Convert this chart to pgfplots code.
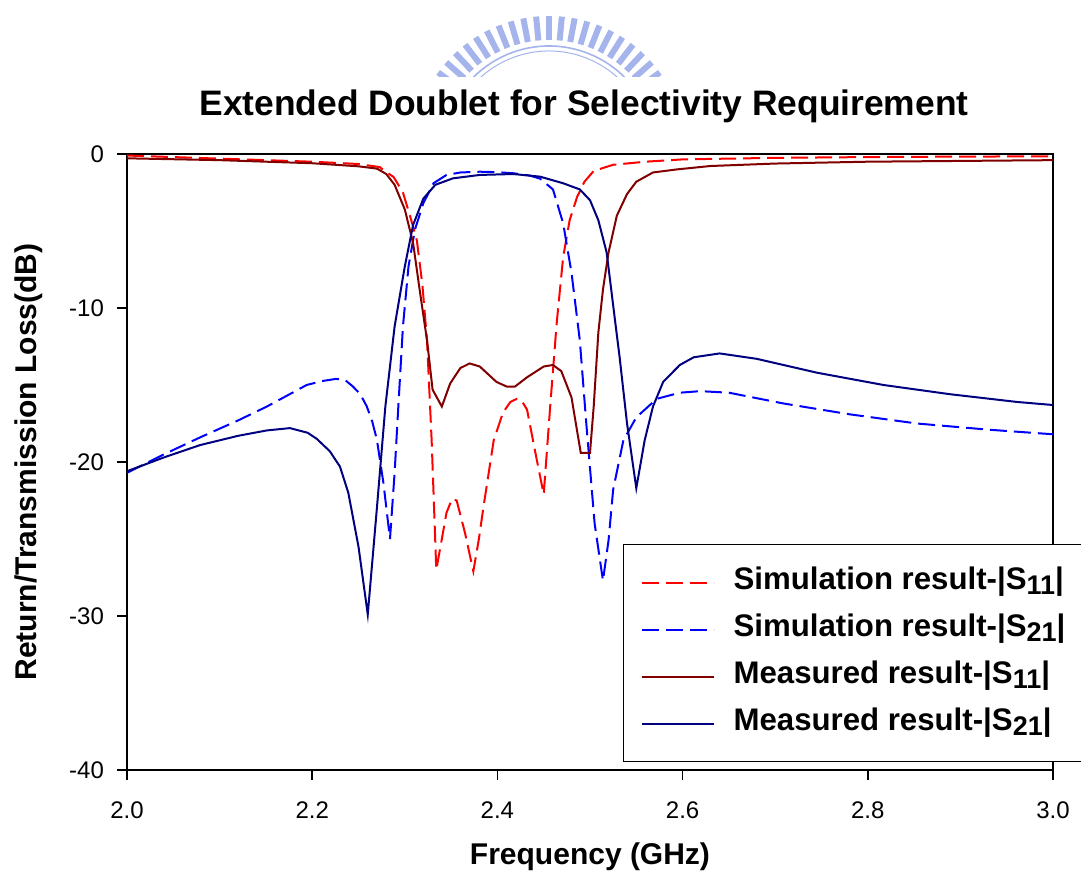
\documentclass[border=0pt]{standalone}
\usepackage{fontspec}
\setmainfont{Liberation Sans}
\usepackage{pgfplots}
\pgfplotsset{compat=1.18}
\definecolor{simred}{RGB}{255,0,0}
\definecolor{simblue}{RGB}{0,0,255}
\definecolor{measred}{RGB}{128,0,0}
\definecolor{measblue}{RGB}{0,0,128}
\definecolor{logo}{RGB}{165,180,235}
\newcommand{\sub}[1]{\raisebox{-2.4pt}{\fontsize{13.5}{14}\selectfont #1}}

\begin{document}
\begin{tikzpicture}
\path[use as bounding box] (-63.5pt,-53.5pt) rectangle (477pt,385pt);
% faint logo behind the title
\begin{scope}
\clip (-63.5pt,346.5pt) rectangle (477pt,385pt);
\foreach \a in {36,41.4,...,144}
  \draw[logo, line width=3pt] (211pt,308.5pt) ++(\a:56.5pt) -- ++(\a:12pt);
\draw[logo, line width=0.8pt] (211pt,308.5pt) ++(20:53.5pt) arc (20:160:53.5pt);
\draw[logo, line width=0.5pt] (211pt,308.5pt) ++(20:51pt) arc (20:160:51pt);
\end{scope}
\begin{axis}[
    at={(0pt,0pt)}, anchor=south west,
    scale only axis, width=463pt, height=308pt,
    xmin=2, xmax=3, ymin=-40, ymax=0,
    xtick={2,2.2,2.4,2.6,2.8,3},
    ytick={-40,-30,-20,-10,0},
    tick pos=left,
    tick align=outside, major tick length=5pt,
    tick style={black, line width=0.8pt},
    axis line style={line width=0.9pt},
    /pgf/number format/assume math mode=true,
    xticklabel style={font=\fontsize{12}{14}\selectfont, yshift=-7.5pt,
      /pgf/number format/.cd, fixed, fixed zerofill, precision=1},
    yticklabel style={font=\fontsize{12}{14}\selectfont, xshift=-3pt},
    title={Extended Doublet for Selectivity Requirement},
    title style={font=\fontsize{17.7}{20}\selectfont\bfseries,
      at={(axis description cs:0.4935,1.0438)}, anchor=base},
    xlabel={Frequency (GHz)},
    xlabel style={font=\fontsize{15}{17}\selectfont\bfseries,
      at={(axis description cs:0.5,-0.154)}, anchor=base},
    ylabel={Return/Transmission Loss(dB)},
    ylabel style={font=\fontsize{15}{17}\selectfont\bfseries,
      at={(axis description cs:-0.0972,0.5)}, anchor=base, rotate=0},
    legend cell align=left,
    legend image code/.code={\draw[#1] (0pt,0pt) -- (36pt,0pt);},
    legend style={at={(rel axis cs:0.5356,0.367)}, anchor=north west,
      draw=black, line width=0.6pt, inner xsep=8.5pt, inner ysep=9.5pt,
      font=\fontsize{15.6}{19}\selectfont\bfseries,
      nodes={inner sep=0pt, text height=13pt, text depth=6pt},
      row sep=4.5pt, column sep=9.5pt},
    every axis plot/.append style={line width=1pt},
]
\addplot[simred, dash pattern=on 8.5pt off 3.5pt] coordinates {
(2.000,-0.10) (2.100,-0.30) (2.200,-0.50) (2.250,-0.65) (2.273,-0.85)
(2.277,-1.04) (2.288,-1.5) (2.298,-2.5) (2.307,-4.3) (2.313,-5.6)
(2.319,-8.5) (2.324,-12.1) (2.329,-18.6) (2.334,-27.0) (2.340,-25.0)
(2.345,-23.3) (2.351,-22.4) (2.356,-22.5) (2.365,-24.6) (2.374,-27.1)
(2.380,-25.0) (2.385,-22.9) (2.396,-18.6) (2.406,-16.8) (2.414,-16.1)
(2.421,-15.9) (2.427,-16.1) (2.432,-16.6) (2.442,-19.7) (2.450,-22.1)
(2.457,-16.4) (2.464,-11.0) (2.471,-6.7) (2.478,-4.3) (2.486,-2.8)
(2.494,-1.8) (2.504,-1.1) (2.525,-0.7) (2.560,-0.5) (2.600,-0.35)
(2.700,-0.25) (2.800,-0.2) (2.900,-0.17) (3.000,-0.15)};
\addlegendentry{Simulation result-|S\sub{11}|}
\addplot[simblue, dash pattern=on 8.5pt off 3.5pt] coordinates {
(2.000,-20.7) (2.040,-19.5) (2.079,-18.4) (2.120,-17.3) (2.151,-16.4)
(2.194,-15.0) (2.210,-14.75) (2.226,-14.6) (2.236,-14.7) (2.244,-15.1)
(2.252,-15.6) (2.259,-16.4) (2.265,-17.4) (2.270,-18.6) (2.277,-21.4)
(2.284,-25.0) (2.289,-20.7) (2.293,-16.4) (2.298,-11.2) (2.304,-7.3)
(2.311,-4.9) (2.320,-3.2) (2.331,-1.9) (2.345,-1.36) (2.360,-1.2)
(2.381,-1.15) (2.400,-1.18) (2.417,-1.25) (2.435,-1.4) (2.446,-1.6)
(2.460,-2.3) (2.471,-4.5) (2.480,-7.7) (2.489,-12.1) (2.496,-17.5)
(2.505,-24.0) (2.514,-27.7) (2.520,-25.1) (2.525,-21.8) (2.536,-18.6)
(2.550,-17.1) (2.572,-15.9) (2.597,-15.5) (2.619,-15.4) (2.650,-15.5)
(2.709,-16.2) (2.780,-16.9) (2.853,-17.5) (2.930,-17.9) (3.000,-18.2)};
\addlegendentry{Simulation result-|S\sub{21}|}
\addplot[measred] coordinates {
(2.000,-0.28) (2.100,-0.40) (2.200,-0.60) (2.250,-0.80) (2.270,-0.95)
(2.280,-1.3) (2.289,-2.0) (2.300,-3.6) (2.309,-5.8) (2.316,-8.8)
(2.324,-12.1) (2.330,-15.3) (2.340,-16.4) (2.349,-14.9) (2.360,-13.9)
(2.370,-13.6) (2.381,-13.8) (2.390,-14.3) (2.399,-14.8) (2.410,-15.1)
(2.419,-15.1) (2.432,-14.5) (2.450,-13.8) (2.460,-13.7) (2.469,-14.1)
(2.480,-15.8) (2.490,-19.4) (2.500,-19.4) (2.504,-16.4) (2.509,-11.6)
(2.514,-8.8) (2.520,-6.4) (2.529,-4.0) (2.540,-2.6) (2.550,-1.8)
(2.568,-1.2) (2.594,-1.0) (2.630,-0.78) (2.700,-0.62) (2.800,-0.5)
(2.900,-0.45) (3.000,-0.40)};
\addlegendentry{Measured result-|S\sub{11}|}
\addplot[measblue] coordinates {
(2.000,-20.6) (2.040,-19.7) (2.079,-18.9) (2.120,-18.3) (2.151,-17.95)
(2.176,-17.8) (2.195,-18.1) (2.205,-18.5) (2.219,-19.3) (2.230,-20.3)
(2.239,-22.0) (2.250,-25.5) (2.260,-29.9) (2.270,-22.9) (2.279,-16.4)
(2.289,-11.2) (2.300,-7.3) (2.309,-4.6) (2.320,-2.9) (2.333,-2.0)
(2.352,-1.58) (2.381,-1.36) (2.417,-1.3) (2.446,-1.47) (2.471,-1.9)
(2.489,-2.3) (2.500,-3.0) (2.509,-4.3) (2.518,-6.4) (2.527,-10.8)
(2.532,-13.2) (2.540,-17.5) (2.550,-21.7) (2.559,-18.6) (2.568,-16.4)
(2.579,-14.8) (2.597,-13.7) (2.612,-13.2) (2.640,-12.95) (2.680,-13.3)
(2.745,-14.2) (2.817,-15.0) (2.889,-15.6) (2.961,-16.1) (3.000,-16.3)};
\addlegendentry{Measured result-|S\sub{21}|}
\end{axis}
\end{tikzpicture}
\end{document}
